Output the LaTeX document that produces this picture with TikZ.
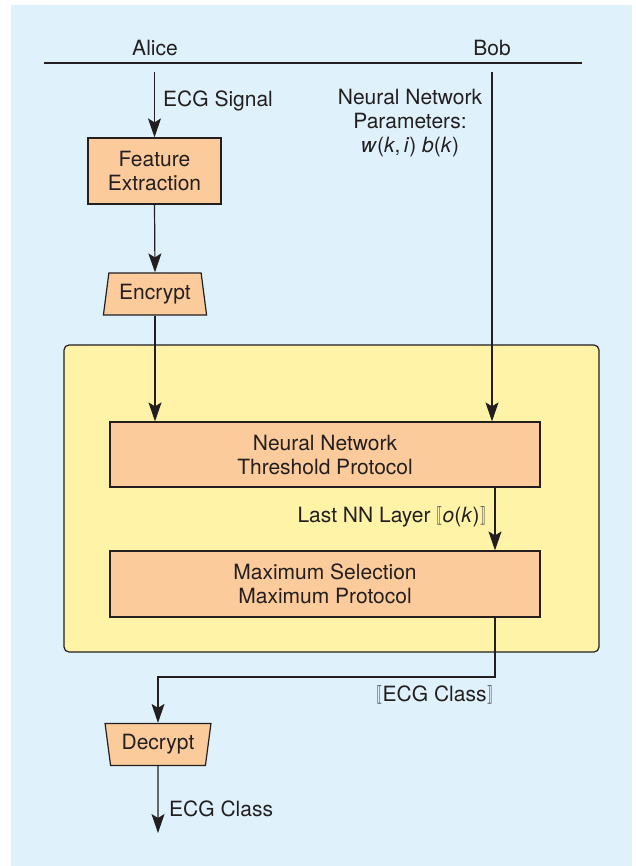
\documentclass[tikz,border=0pt]{standalone}
\usepackage{fontspec}
\usepackage{graphicx}
\setmainfont{TeX Gyre Heros}
\newfontfamily\symfont{DejaVu Sans}
\usetikzlibrary{arrows.meta,shapes.geometric}
\definecolor{bgblue}{HTML}{DFF2FB}
\definecolor{panel}{HTML}{FFF3A8}
\definecolor{peach}{HTML}{FCCB9B}
\definecolor{ink}{HTML}{231F20}
\newcommand{\lbr}{{\color{ink!70}\scalebox{0.6}[1]{\symfont ⟦}}}
\newcommand{\rbr}{{\color{ink!70}\scalebox{0.6}[1]{\symfont ⟧}}}

\begin{document}
\begin{tikzpicture}[x=1pt,y=-1pt,
  every node/.style={font=\fontsize{21}{24}\selectfont, text=ink},
  procbox/.style={draw=ink, line width=1.2pt, fill=peach, align=center, inner sep=0pt},
  trap/.style={trapezium, draw=ink, line width=1.2pt, fill=peach, inner sep=0pt,
    trapezium stretches=true, minimum height=42pt},
  flow/.style={draw=ink, line width=1.2pt, -{Stealth[length=19pt,width=13pt,inset=4pt]}},
  wire/.style={draw=ink, line width=1.2pt},
  lbl/.style={inner sep=0pt}
]
\useasboundingbox (0,0) rectangle (636,866);
\fill[bgblue] (11,5) rectangle (632,866);

% parties
\node[lbl, anchor=base] (alice) at (155,55.5) {Alice};
\node[lbl, anchor=base] (bob) at (492,55.5) {Bob};
\coordinate (hl) at (44,63);
\coordinate (hr) at (582,63);
\draw[wire] (hl) -- (hr);

% secure computation panel
\draw[wire, fill=panel, rounded corners=5pt] (64,345) rectangle (599,652);

% processing blocks
\node[procbox, minimum width=133pt, minimum height=66pt] (fe) at (154.5,171) {Feature\\Extraction};
\node[trap, minimum width=104pt, trapezium left angle=78, trapezium right angle=78] (enc) at (155,294) {Encrypt};
\node[procbox, minimum width=430pt, minimum height=65pt] (nn) at (325,454.5) {Neural Network\\Threshold Protocol};
\node[procbox, minimum width=430pt, minimum height=66pt] (mx) at (325,584) {Maximum Selection\\Maximum Protocol};
\node[trap, minimum width=106pt, trapezium left angle=102, trapezium right angle=102] (dec) at (158,744.5) {Decrypt};

% flows
\coordinate (aliceIn) at (154.5,72);
\coordinate (bobIn) at (492,72);
\coordinate (tap) at (495,0);
\coordinate (bend) at (495,677);
\coordinate (out) at (158,833);

\draw[flow] (aliceIn) -- (fe.north);
\draw[flow] (fe.south) -- (enc.north);
\draw[flow] (enc.south) -- (enc.south |- nn.north);
\draw[flow] (bobIn) -- (bobIn |- nn.north);
\draw[flow] (tap |- nn.south) -- (tap |- mx.north);
\draw[flow] (tap |- mx.south) -- (bend) -| (dec.north);
\draw[flow] (dec.south) -- (out);

% flow labels
\node[lbl, anchor=base west] (sig) at (163,106.5) {ECG Signal};
\node[lbl, align=center] (par) at (410,123) {Neural Network\\Parameters:\\\textit{w}(\textit{k},\,\textit{i}) \textit{b}(\textit{k})};
\node[lbl, anchor=base east] (last) at (486,522.5) {Last NN Layer \lbr\textit{o}(\textit{k})\rbr};
\node[lbl, anchor=base east] (cls) at (493,701.5) {\lbr ECG Class\rbr};
\node[lbl, anchor=base west] (res) at (169,816.5) {ECG Class};
\end{tikzpicture}
\end{document}
